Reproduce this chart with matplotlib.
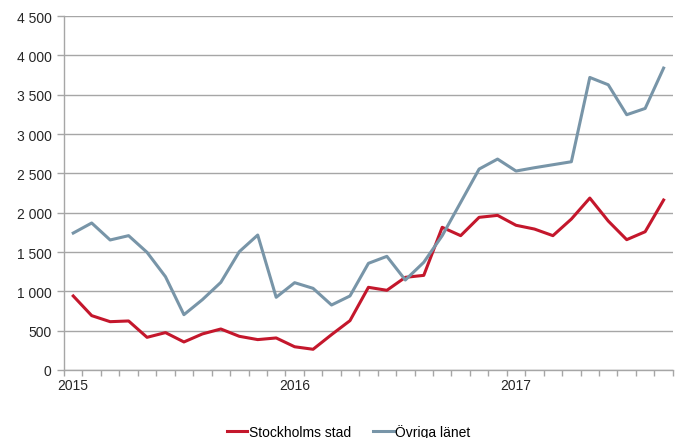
import numpy as np
import matplotlib
matplotlib.use('Agg')
import matplotlib.pyplot as plt
from matplotlib.ticker import FuncFormatter

plt.rcParams['font.family'] = ['Liberation Sans', 'DejaVu Sans']

# monthly values, Jan 2015 - Sep 2017
year_labels = ['2015', '2016', '2017']
stockholm = [941, 691, 614, 623, 415, 475, 356, 458, 521, 428, 386, 407,
             295, 263, 449, 627, 1051, 1013, 1178, 1203, 1814, 1708, 1941, 1966,
             1840, 1792, 1708, 1919, 2186, 1894, 1657, 1758, 2161]
ovriga = [1741, 1869, 1653, 1708, 1496, 1186, 703, 894, 1114, 1504, 1716, 924,
          1110, 1038, 826, 941, 1356, 1445, 1144, 1369, 1708, 2131, 2555, 2682,
          2530, 2572, 2610, 2648, 3720, 3627, 3246, 3326, 3839]

red = '#C4172C'
blue = '#7895A8'
grid_c = '#A6A6A6'

x = np.arange(len(stockholm))

fig = plt.figure(figsize=(6.81, 4.39), dpi=100)
ax = fig.add_axes([0.094, 0.155, 0.894, 0.806])

ax.plot(x, stockholm, color=red, lw=2.2, label='Stockholms stad', zorder=3)
ax.plot(x, ovriga, color=blue, lw=2.2, label='Övriga länet', zorder=3)

ax.set_xlim(-0.5, len(x) - 0.5)
ax.set_ylim(0, 4500)
ax.set_yticks(np.arange(0, 4501, 500))
ax.yaxis.set_major_formatter(FuncFormatter(lambda v, p: f'{int(v):,}'.replace(',', ' ')))
ax.yaxis.grid(True, color=grid_c, lw=1)
ax.set_axisbelow(True)

# category boundaries as ticks, year labels at category centres
ax.set_xticks(np.arange(-0.5, len(x)))
ax.set_xticklabels([])
ax.set_xticks([0, 12, 24], minor=True)
ax.set_xticklabels(year_labels, minor=True)
ax.tick_params(axis='x', which='major', length=4, color=grid_c, width=1)
ax.tick_params(axis='x', which='minor', length=0, pad=6, labelsize=10, labelcolor='#262626')
ax.tick_params(axis='y', length=5, color=grid_c, width=1, labelsize=10, labelcolor='#262626', pad=4)

for s in ['top', 'right']:
    ax.spines[s].set_visible(False)
for s in ['left', 'bottom']:
    ax.spines[s].set_color(grid_c)
    ax.spines[s].set_linewidth(1)

fig.legend(loc='lower center', bbox_to_anchor=(0.512, -0.03), ncol=2, frameon=False,
           fontsize=10, handlelength=1.5, handletextpad=0.1, columnspacing=1.6)

fig.savefig('out.png', dpi=100)
